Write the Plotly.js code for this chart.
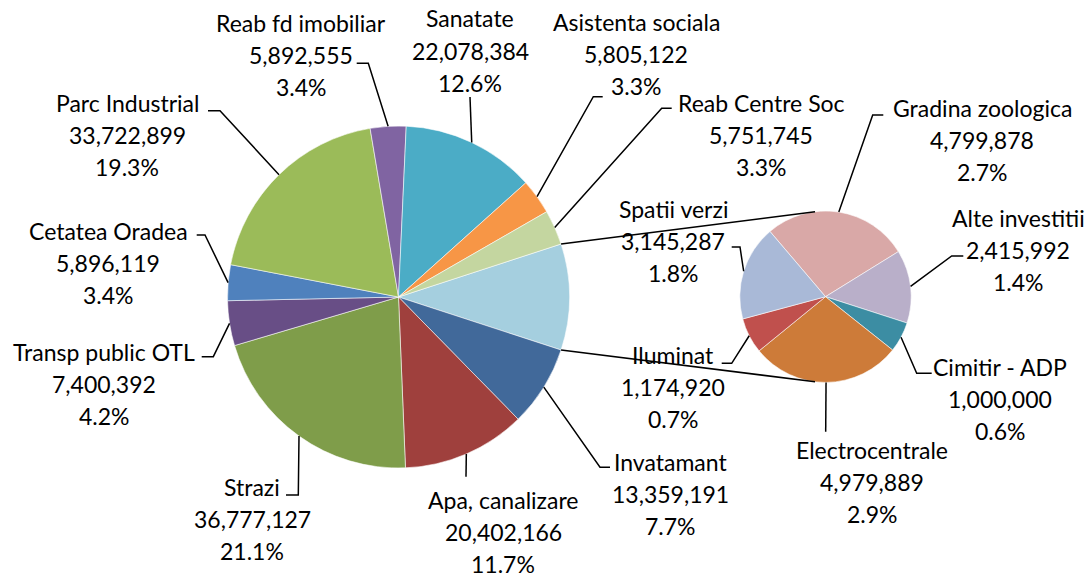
<!DOCTYPE html>
<html><head><meta charset="utf-8">
<script src="https://cdn.plot.ly/plotly-3.0.1.min.js"></script>
<style>html,body{margin:0;padding:0;background:#fff}#chart{width:1091px;height:577px}</style>
</head><body><div id="chart"></div>
<script>
// ---- data ----
const mainLabels = ["Invatamant","Apa, canalizare","Strazi","Transp public OTL","Cetatea Oradea","Parc Industrial","Reab fd imobiliar","Sanatate","Asistenta sociala","Reab Centre Soc"];
const mainValues = [13359191,20402166,36777127,7400392,5896119,33722899,5892555,22078384,5805122,5751745];
const subLabels = ["Gradina zoologica","Alte investitii","Cimitir - ADP","Electrocentrale","Iluminat","Spatii verzi"];
const subValues = [4799878,2415992,1000000,4979889,1174920,3145287];

// ---- styles ----
const otherColor = "#A5CFDF";
const mainColors = ["#41699A","#9F403D","#7F9D4A","#684E86","#4F81BD","#9BBB59","#8064A2","#4BACC6","#F79646","#C4D6A0"];
const subColors = ["#D9A8A7","#B9AFC9","#3C8DA3","#CD7B39","#C0504D","#A9B9D7"];

const W = 1091, H = 577;
const MAIN = {cx: 398.5, cy: 297, r: 171};
const SUB = {cx: 825.5, cy: 296.7, r: 85.7, rot: -40.4};
const FONT = "Lato, 'Open Sans', sans-serif";
const FS = 23, LH = 32;

// label placement (pixels): centre x, first line y, leader points after the tip
const place = {
  "Invatamant":        {x: 670, y: 462, pts: [[600,467.3],[610,467.3]]},
  "Apa, canalizare":   {x: 503, y: 500, pts: [[466,476.7]]},
  "Strazi":            {x: 252, y: 487, pts: [[298.3,495],[286,495]]},
  "Transp public OTL": {x: 104, y: 352, pts: [[213.3,356.7],[201.7,356.7]]},
  "Cetatea Oradea":    {x: 108, y: 231, pts: [[205,235],[196.7,235]]},
  "Parc Industrial":   {x: 127, y: 103, pts: [[220,110.7],[208,110.7]]},
  "Reab fd imobiliar": {x: 301, y: 23,  pts: [[368.3,63.3],[356.7,63.3]]},
  "Sanatate":          {x: 470, y: 18.5,pts: [[470,97]]},
  "Asistenta sociala": {x: 636, y: 22,  pts: [[593.3,96.7],[602.7,96.7]]},
  "Reab Centre Soc":   {x: 761, y: 103, pts: [[661.7,108.3],[671.7,108.3]]},
  "Gradina zoologica": {x: 982, y: 108, pts: [[872.7,115],[883.3,115]]},
  "Alte investitii":   {x: 1018,y: 218, pts: [[951.7,256],[963.3,256]]},
  "Cimitir - ADP":     {x: 1000,y: 367, pts: [[916.7,373.3],[931.7,373.3]]},
  "Electrocentrale":   {x: 872, y: 450, pts: [[825.7,431.7]]},
  "Iluminat":          {x: 673, y: 355, pts: [[731.7,363.3],[721.7,363.3]]},
  "Spatii verzi":      {x: 673, y: 209, pts: [[740,247],[731.7,247]]}
};

// ---- derived ----
const sum = a => a.reduce((s, v) => s + v, 0);
const otherSum = sum(subValues);
const total = sum(mainValues) + otherSum;
const mainAllValues = [otherSum].concat(mainValues);
const mainAllColors = [otherColor].concat(mainColors);
const mainRot = 90 - otherSum / total * 180;

const px = x => x / W, py = y => 1 - y / H;
const dom = c => ({x: [px(c.cx - c.r), px(c.cx + c.r)], y: [py(c.cy + c.r), py(c.cy - c.r)]});
const pt = (c, a) => [c.cx + c.r * Math.sin(a * Math.PI / 180), c.cy - c.r * Math.cos(a * Math.PI / 180)];

const fmt = v => v.toLocaleString("en-US");
const pct = v => (v / total * 100).toFixed(1) + "%";

const annotations = [], shapes = [];
function addLabels(c, rot, labels, values, offset) {
  let ang = rot + offset;
  values.forEach((v, i) => {
    const span = v / (offset === undefined ? 1 : 1) ;
    const deg = v / c.tot * 360;
    const mid = ang + deg / 2;
    ang += deg;
    const name = labels[i], p = place[name];
    const tip = pt(c, mid);
    let d = "M" + px(tip[0]) + "," + py(tip[1]);
    p.pts.forEach(q => { d += " L" + px(q[0]) + "," + py(q[1]); });
    shapes.push({type: "path", xref: "paper", yref: "paper", path: d, line: {color: "#000", width: 1.5}});
    [name, fmt(v), pct(v)].forEach((t, k) => {
      annotations.push({xref: "paper", yref: "paper", x: px(p.x), y: py(p.y + k * LH),
        xanchor: "center", yanchor: "middle", text: t, showarrow: false,
        font: {family: FONT, size: FS, color: "#000"}});
    });
  });
}
MAIN.tot = total;
SUB.tot = otherSum;
addLabels(MAIN, mainRot, mainLabels, mainValues, otherSum / total * 360);
addLabels(SUB, SUB.rot, subLabels, subValues, 0);

// connector lines from the aggregated slice to the secondary pie
const cA = pt(MAIN, mainRot), cB = pt(MAIN, mainRot + otherSum / total * 360);
const sA = pt(SUB, -7), sB = pt(SUB, 187);
[[cA, sA], [cB, sB]].forEach(([a, b]) => shapes.push({type: "line", xref: "paper", yref: "paper",
  x0: px(a[0]), y0: py(a[1]), x1: px(b[0]), y1: py(b[1]), line: {color: "#000", width: 1.5}}));

const sliceLine = {color: "rgba(255,255,255,0.7)", width: 0.8};
const traces = [
  {type: "pie", values: mainAllValues, labels: ["Alte"].concat(mainLabels), sort: false,
   direction: "clockwise", rotation: mainRot, domain: dom(MAIN), textinfo: "none",
   hoverinfo: "none", marker: {colors: mainAllColors, line: sliceLine}, automargin: false},
  {type: "pie", values: subValues, labels: subLabels, sort: false,
   direction: "clockwise", rotation: SUB.rot, domain: dom(SUB), textinfo: "none",
   hoverinfo: "none", marker: {colors: subColors, line: sliceLine}, automargin: false}
];
const layout = {width: W, height: H, margin: {l: 0, r: 0, t: 0, b: 0}, showlegend: false,
  paper_bgcolor: "#fff", annotations: annotations, shapes: shapes, font: {family: FONT}};
Plotly.newPlot("chart", traces, layout, {staticPlot: true});
</script></body></html>
